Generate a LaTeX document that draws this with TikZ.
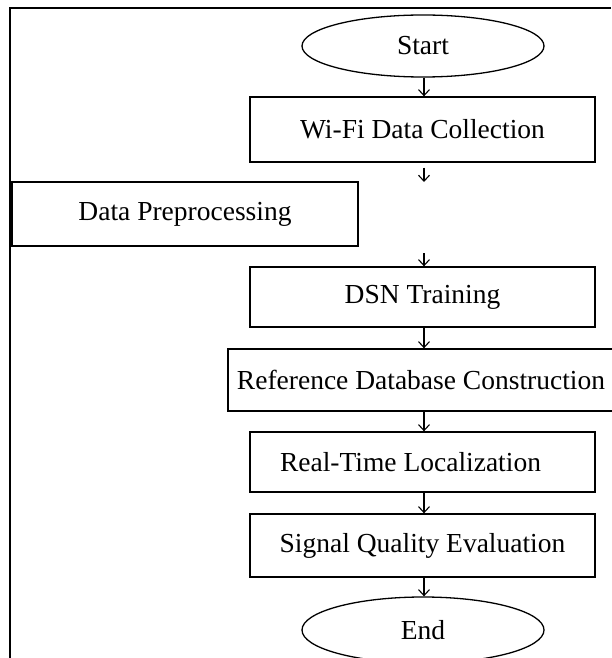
\documentclass[tikz,border=0pt]{standalone}
\usepackage{fontspec}
\setmainfont{Liberation Serif}
\usetikzlibrary{shapes.geometric,arrows.meta}
\tikzset{
  procbox/.style={draw, rectangle, line width=1.3pt, inner sep=0pt, align=center},
  termnode/.style={draw, ellipse, line width=1.3pt, inner sep=0pt, minimum width=242pt},
  flow/.style={line width=1.1pt, -{Straight Barb[length=6pt,width=11pt,line width=1.1pt]}},
  frameline/.style={line width=1.3pt}
}
\begin{document}
\begin{tikzpicture}[x=1pt,y=-1pt,font=\fontsize{27.5}{32}\selectfont]
\useasboundingbox (0,0) rectangle (611,658);
% frame
\coordinate (fl) at (10,658);
\coordinate (fc) at (10,8);
\coordinate (fr) at (611,8);
\draw[frameline] (fl) -- (fc) -- (fr);
% nodes
\node[termnode, minimum height=62pt] (start) at (423,46) {Start};
\node[procbox, minimum width=345pt, minimum height=65pt] (wifi) at (422.5,129.5) {Wi-Fi Data Collection};
\node[procbox, minimum width=346pt, minimum height=64pt] (dp) at (185,214) {Data Preprocessing};
\node[procbox, minimum width=345pt, minimum height=60pt] (dsn) at (422.5,297) {DSN Training};
\node[procbox, minimum width=386pt, minimum height=62pt] (refdb) at (421,380) {Reference Database Construction};
\node[procbox, minimum width=345pt, minimum height=60pt] (rt) at (422.5,462) {\kern-24pt Real-Time Localization};
\node[procbox, minimum width=345pt, minimum height=63pt] (sq) at (422.5,545.5) {Signal Quality Evaluation};
\node[termnode, minimum height=66pt] (end) at (423,630) {End};
% free arrow ends
\coordinate (a1) at (424,182);
\coordinate (a2) at (424,253);
% connectors
\draw[flow] (start.south -| a1) -- (wifi.north -| a1);
\draw[flow, shorten <=5pt] (wifi.south -| a1) -- (a1);
\draw[flow] (a2) -- (dsn.north -| a2);
\draw[flow] (dsn.south -| a1) -- (refdb.north -| a1);
\draw[flow] (refdb.south -| a1) -- (rt.north -| a1);
\draw[flow] (rt.south -| a1) -- (sq.north -| a1);
\draw[flow] (sq.south -| a1) -- (end.north -| a1);
\end{tikzpicture}
\end{document}
